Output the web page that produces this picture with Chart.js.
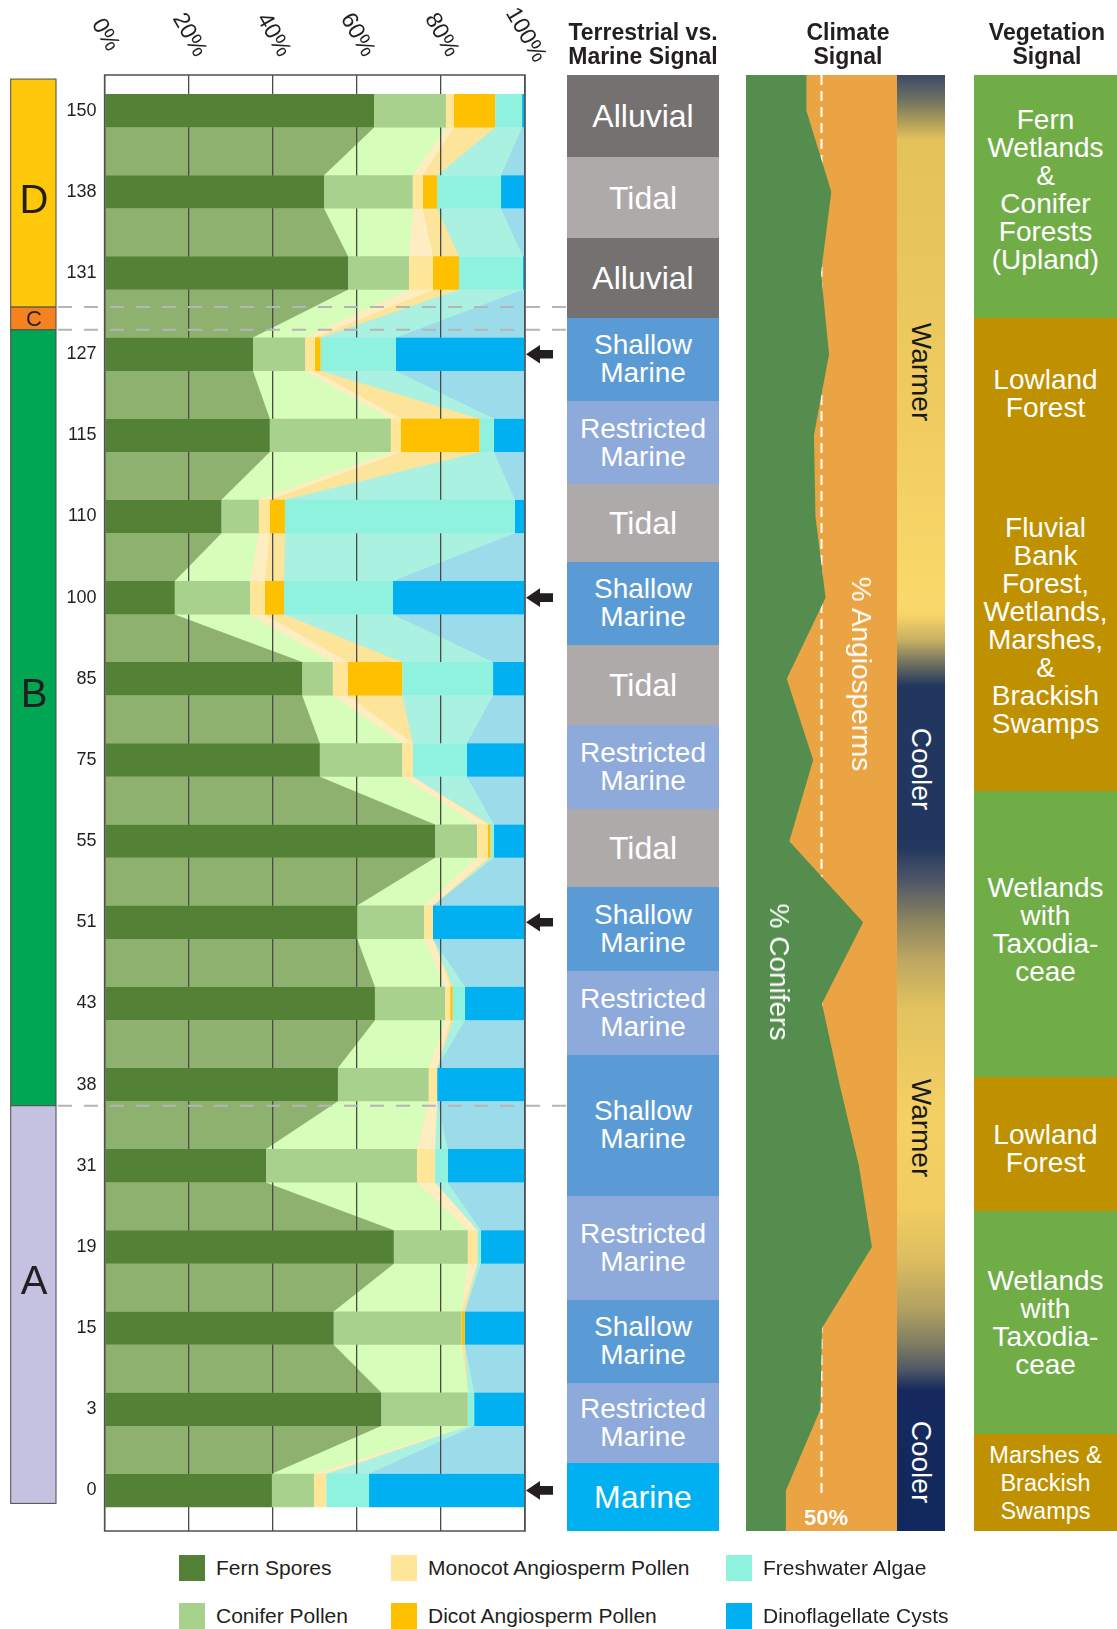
<!DOCTYPE html>
<html lang="en">
<head>
    <meta charset="UTF-8">
    <title>Palynomorph assemblages with depositional, climate and vegetation signals</title>
    <script src="https://cdn.jsdelivr.net/npm/chart.js"></script>
    <style>
        body {
            margin: 0;
            background: #fff;
            color: #231f20;
            font-family: 'Liberation Sans', Arial, sans-serif;
        }

        #page {
            position: relative;
            width: 1117px;
            height: 1629px;
            overflow: hidden;
        }

        canvas {
            position: absolute;
        }

        #mainChart {
            left: 0;
            top: 0;
        }

        #climateChart {
            left: 746px;
            top: 75px;
            background: #eba443;
        }

        .head {
            position: absolute;
            top: 20px;
            width: 200px;
            text-align: center;
            font-weight: bold;
            font-size: 23px;
            line-height: 24px;
            white-space: nowrap;
        }

        .block {
            position: absolute;
            display: flex;
            align-items: center;
            justify-content: center;
            text-align: center;
            color: #fff;
            font-size: 28px;
            line-height: 28px;
        }

        .rot {
            position: absolute;
            transform: translate(-50%, -50%) rotate(90deg);
            white-space: nowrap;
            font-size: 28px;
            line-height: 28px;
        }

        #thermo {
            position: absolute;
            left: 897px;
            top: 75px;
            width: 48px;
            height: 1456px;
            background: linear-gradient(to bottom,
                #3a4a66 0px, #6f7262 25px, #a99a5b 45px, #e3c259 65px,
                #efcb5f 325px, #fbd86a 525px, #f8d569 540px, #c8b063 565px,
                #7c7a62 585px, #22375f 611px, #22375f 772px, #4d5668 805px,
                #8a845f 845px, #bda762 885px, #e2c35f 935px, #f5d064 1045px,
                #f0cc61 1135px, #dcbd60 1185px, #b0a062 1235px, #7d7b62 1270px,
                #4f5765 1295px, #15295d 1315px, #11295e 1456px);
        }

        #pct50 {
            position: absolute;
            left: 826px;
            top: 1518px;
            transform: translate(-50%, -50%);
            color: #fff;
            font-weight: bold;
            font-size: 22px;
        }

        .leg {
            position: absolute;
            display: flex;
            align-items: center;
            font-size: 21px;
            white-space: nowrap;
        }

        .leg .sw {
            width: 26px;
            height: 26px;
            margin-right: 11px;
        }
    </style>
</head>
<body>
<div id="page">
    <canvas id="mainChart" width="567" height="1545"></canvas>

    <div class="head" style="left:543px">Terrestrial vs.<br>Marine Signal</div>
    <div class="head" style="left:748px">Climate<br>Signal</div>
    <div class="head" style="left:947px">Vegetation<br>Signal</div>

    <canvas id="climateChart" width="151" height="1456"></canvas>
    <div id="thermo"></div>
    <div class="rot" style="left:861px; top:674px; color:#fff">% Angiosperms</div>
    <div class="rot" style="left:779px; top:972px; color:#fff">% Conifers</div>
    <div class="rot" style="left:921px; top:372px; color:#1a1a1a">Warmer</div>
    <div class="rot" style="left:921px; top:769px; color:#fff">Cooler</div>
    <div class="rot" style="left:921px; top:1128px; color:#1a1a1a">Warmer</div>
    <div class="rot" style="left:921px; top:1462px; color:#fff">Cooler</div>
    <div id="pct50">50%</div>
</div>

<script>
    // samples, top of section first
    const samples = ['150', '138', '131', '127', '115', '110', '100', '85', '75', '55', '51', '43', '38', '31', '19', '15', '3', '0'];

    // relative abundance (%) per sample
    const fernSpores      = [64.1, 52.2, 57.9, 35.3, 39.3, 27.8, 16.7, 47.0, 51.2, 78.6, 60.1, 64.3, 55.5, 38.4, 68.8, 54.5, 65.8, 39.8];
    const coniferPollen   = [17.1, 21.1, 14.5, 12.4, 28.8, 8.9, 17.9, 7.3, 19.6, 10.0, 15.9, 16.7, 21.6, 35.9, 17.6, 30.4, 20.6, 10.0];
    const monocotPollen   = [1.9, 2.4, 5.7, 2.3, 2.4, 2.6, 3.5, 3.6, 2.5, 2.5, 2.1, 1.2, 2.0, 4.3, 2.25, 0, 0, 2.9];
    const dicotPollen     = [9.8, 3.4, 6.2, 1.4, 18.7, 3.6, 4.6, 12.9, 0, 0.7, 0, 0.6, 0, 0, 0, 0.8, 0, 0];
    const freshwaterAlgae = [6.4, 15.2, 15.2, 17.9, 3.4, 54.7, 25.9, 21.6, 12.9, 0.8, 0, 2.9, 0, 3.0, 0.85, 0, 1.5, 10.2];
    const dinoCysts       = [0.7, 5.7, 0.5, 30.7, 7.4, 2.4, 31.4, 7.6, 13.8, 7.4, 21.9, 14.3, 20.9, 18.4, 10.5, 14.3, 12.1, 37.1];

    const seriesNames = ['Fern Spores', 'Conifer Pollen', 'Monocot Angiosperm Pollen', 'Dicot Angiosperm Pollen', 'Freshwater Algae', 'Dinoflagellate Cysts'];
    const xTicks = [0, 20, 40, 60, 80, 100];
    const arrowSamples = ['127', '100', '51', '0'];

    // % conifers among (conifer + angiosperm) pollen, climate column
    const coniferShare = [40, 56.5, 49.7, 55, 45, 46, 52.7, 27, 44.5, 28.7, 77.6, 50.3, 62, 74.8, 83.4, 50.3, 49.3, 26.4];
    const halfLine = 50;

    // zones (ends in sample-index units)
    const zoneNames = ['D', 'C', 'B', 'A'];
    const zoneEnds = [2.42, 2.70, 12.26, 17.16];

    // depositional setting blocks (ends in sample-index units)
    const envNames = ['Alluvial', 'Tidal', 'Alluvial', 'Shallow Marine', 'Restricted Marine', 'Tidal', 'Shallow Marine', 'Tidal',
        'Restricted Marine', 'Tidal', 'Shallow Marine', 'Restricted Marine', 'Shallow Marine', 'Restricted Marine',
        'Shallow Marine', 'Restricted Marine', 'Marine'];
    const envEnds = [0.57, 1.57, 2.55, 3.58, 4.6, 5.56, 6.58, 7.57, 8.6, 9.57, 10.6, 11.63, 13.37, 14.65, 15.68, 16.66, 17.5];

    // vegetation blocks
    const vegNames = ['Fern\nWetlands\n&\nConifer\nForests\n(Upland)', 'Lowland\nForest',
        'Fluvial\nBank\nForest,\nWetlands,\nMarshes,\n&\nBrackish\nSwamps', 'Wetlands\nwith\nTaxodia-\nceae',
        'Lowland\nForest', 'Wetlands\nwith\nTaxodia-\nceae', 'Marshes &\nBrackish\nSwamps'];
    const vegTypes = ['wet', 'dry', 'dry', 'wet', 'dry', 'wet', 'dry'];
    const vegEnds = [2.55, 4.43, 8.38, 11.91, 13.56, 16.31, 17.5];

    // styles
    const barColors = ['#538135', '#a9d18e', '#ffe699', '#ffc000', '#8ef2df', '#00b0f0'];
    const linkColors = ['#8fb170', '#d6fdba', '#fdedc0', '#fde49b', '#aaf1e1', '#9cdcea'];
    const envColors = {'Alluvial': '#767171', 'Tidal': '#aeaaaa', 'Shallow Marine': '#5b9bd5', 'Restricted Marine': '#8eaadb', 'Marine': '#00b0f0'};
    const vegColors = {wet: '#70ad47', dry: '#bf9000'};
    const zoneColors = ['#ffc80a', '#f5821f', '#00a651', '#c4c2e0'];
    const zoneLetterAt = [1.12, 2.58, 7.21, 14.45];
    const vegTextShift = [-6, 0, -5, -4, 5, 0, 0];
    const yMin = -0.44, yMax = 17.5;
    const FONT = "'Liberation Sans', Arial, sans-serif";

    Chart.defaults.font.family = FONT;

    // lighter bands joining consecutive bars
    const linkPlugin = {
        id: 'links',
        beforeDraw(chart) {
            const {ctx, chartArea: a} = chart;
            ctx.save();
            for (let k = chart.data.datasets.length - 1; k >= 0; k--) {
                const bars = chart.getDatasetMeta(k).data;
                ctx.fillStyle = linkColors[k];
                for (let i = 0; i < bars.length - 1; i++) {
                    const p = bars[i], q = bars[i + 1];
                    const y1 = p.y + p.height / 2, y2 = q.y - q.height / 2;
                    ctx.beginPath();
                    ctx.moveTo(a.left, y1);
                    ctx.lineTo(p.x, y1);
                    ctx.lineTo(q.x, y2);
                    ctx.lineTo(a.left, y2);
                    ctx.closePath();
                    ctx.fill();
                }
            }
            ctx.restore();
        }
    };

    const decorPlugin = {
        id: 'decor',
        afterDraw(chart) {
            const {ctx, chartArea: a, scales: {x, y}} = chart;
            ctx.save();

            ctx.strokeStyle = '#505050';
            ctx.lineWidth = 1.5;
            ctx.strokeRect(a.left, a.top, a.right - a.left, a.bottom - a.top);

            // rotated percent labels on top
            ctx.fillStyle = '#231f20';
            ctx.font = '23px ' + FONT;
            ctx.textAlign = 'center';
            ctx.textBaseline = 'middle';
            xTicks.forEach(v => {
                ctx.save();
                ctx.translate(x.getPixelForValue(v) + 0.5, 35);
                ctx.rotate(Math.PI / 3);
                ctx.fillText(v + '%', 0, 0);
                ctx.restore();
            });

            // arrows
            arrowSamples.forEach(s => {
                const cy = y.getPixelForValue(samples.indexOf(s));
                const r = a.right + 1;
                ctx.beginPath();
                ctx.moveTo(r, cy);
                ctx.lineTo(r + 14, cy - 9.3);
                ctx.lineTo(r + 14, cy - 4.3);
                ctx.lineTo(r + 27, cy - 4.3);
                ctx.lineTo(r + 27, cy + 4.3);
                ctx.lineTo(r + 14, cy + 4.3);
                ctx.lineTo(r + 14, cy + 9.3);
                ctx.closePath();
                ctx.fill();
            });

            // zone column
            let start = -0.39;
            zoneNames.forEach((z, i) => {
                const t = y.getPixelForValue(start), b = y.getPixelForValue(zoneEnds[i]);
                ctx.fillStyle = zoneColors[i];
                ctx.fillRect(10.7, t, 45.3, b - t);
                ctx.strokeStyle = '#4d4d4d';
                ctx.lineWidth = 1;
                ctx.strokeRect(10.7, t, 45.3, b - t);
                ctx.fillStyle = '#231f20';
                ctx.font = (z === 'C' ? '22px ' : '40px ') + FONT;
                ctx.fillText(z, 34, y.getPixelForValue(zoneLetterAt[i]));
                start = zoneEnds[i];
            });

            // dashed zone boundaries
            ctx.strokeStyle = '#b5b5b5';
            ctx.lineWidth = 2;
            ctx.setLineDash([14, 12]);
            zoneEnds.slice(0, -1).forEach(v => {
                const py = y.getPixelForValue(v);
                ctx.beginPath();
                ctx.moveTo(58, py);
                ctx.lineTo(chart.width, py);
                ctx.stroke();
            });
            ctx.restore();
        }
    };

    const series = [fernSpores, coniferPollen, monocotPollen, dicotPollen, freshwaterAlgae, dinoCysts];

    new Chart(document.getElementById('mainChart'), {
        type: 'bar',
        data: {
            labels: samples.map((s, i) => i),
            datasets: series.map((d, k) => ({
                label: seriesNames[k],
                data: d,
                backgroundColor: barColors[k],
                borderWidth: 0,
                barPercentage: 0.412,
                categoryPercentage: 1
            }))
        },
        options: {
            indexAxis: 'y',
            responsive: false,
            animation: false,
            events: [],
            devicePixelRatio: 1,
            layout: {padding: {left: 0, top: 75, right: 42, bottom: 14}},
            plugins: {legend: {display: false}, tooltip: {enabled: false}},
            scales: {
                x: {
                    position: 'top',
                    stacked: true,
                    min: 0,
                    max: 100,
                    ticks: {display: false, stepSize: 20},
                    grid: {color: '#4a4a4a', lineWidth: 1.3, drawTicks: false},
                    border: {display: false}
                },
                y: {
                    type: 'linear',
                    stacked: true,
                    reverse: true,
                    offset: false,
                    min: yMin,
                    max: yMax,
                    grid: {display: false, drawTicks: false, offset: false},
                    border: {display: false},
                    ticks: {
                        stepSize: 1,
                        includeBounds: false,
                        autoSkip: false,
                        padding: 8,
                        color: '#231f20',
                        font: {size: 18},
                        callback: v => samples[v] ?? ''
                    },
                    afterFit(scale) {
                        scale.width = 104.6;
                        scale.paddingTop = 0;
                        scale.paddingBottom = 0;
                    }
                }
            }
        },
        plugins: [linkPlugin, decorPlugin]
    });

    const climatePoints = [{x: coniferShare[0], y: yMin}]
        .concat(coniferShare.map((v, i) => ({x: v, y: i})))
        .concat([{x: coniferShare[coniferShare.length - 1], y: yMax}]);

    const climate = new Chart(document.getElementById('climateChart'), {
        type: 'line',
        data: {
            datasets: [{
                label: '% Conifers',
                data: climatePoints,
                fill: {value: 0},
                backgroundColor: '#548d4e',
                borderColor: 'rgba(0,0,0,0)',
                borderWidth: 0,
                pointRadius: 0,
                tension: 0
            }, {
                label: '50%',
                data: [{x: halfLine, y: yMin}, {x: halfLine, y: 17.1}],
                fill: false,
                borderColor: '#ffffff',
                borderWidth: 2,
                borderDash: [10, 6],
                pointRadius: 0
            }]
        },
        options: {
            indexAxis: 'y',
            responsive: false,
            animation: false,
            events: [],
            devicePixelRatio: 1,
            layout: {padding: 0},
            plugins: {legend: {display: false}, tooltip: {enabled: false}},
            scales: {
                x: {type: 'linear', min: 0, max: 100, display: false},
                y: {type: 'linear', min: yMin, max: yMax, reverse: true, display: false}
            }
        }
    });

    // side columns, placed with the climate chart's y scale
    const page = document.getElementById('page');
    const py = v => 75 + climate.scales.y.getPixelForValue(v);

    function addBlock(left, width, from, to, color, html, fontSize, shift) {
        const el = document.createElement('div');
        el.className = 'block';
        el.style.left = left + 'px';
        el.style.width = width + 'px';
        el.style.top = py(from) + 'px';
        el.style.height = (py(to) - py(from)) + 'px';
        el.style.background = color;
        el.style.fontSize = fontSize + 'px';
        el.innerHTML = '<div style="position:relative; top:' + (shift || 0) + 'px">' + html + '</div>';
        page.appendChild(el);
    }

    let from = yMin;
    envNames.forEach((name, i) => {
        const single = name.indexOf(' ') < 0;
        addBlock(567, 152, from, envEnds[i], envColors[name], name.replace(' ', '<br>'), single ? 32 : 28, 0);
        from = envEnds[i];
    });

    from = yMin;
    vegNames.forEach((name, i) => {
        const small = name.startsWith('Marshes &');
        addBlock(974, 143, from, vegEnds[i], vegColors[vegTypes[i]], name.split('\n').join('<br>'), small ? 23.5 : 28, vegTextShift[i]);
        from = vegEnds[i];
    });

    // legend
    const legX = [179, 391, 726], legY = [1555, 1603];
    seriesNames.forEach((name, k) => {
        const el = document.createElement('div');
        el.className = 'leg';
        el.style.left = legX[Math.floor(k / 2)] + 'px';
        el.style.top = legY[k % 2] + 'px';
        el.innerHTML = '<span class="sw" style="background:' + barColors[k] + '"></span><span>' + name + '</span>';
        page.appendChild(el);
    });
</script>
</body>
</html>
